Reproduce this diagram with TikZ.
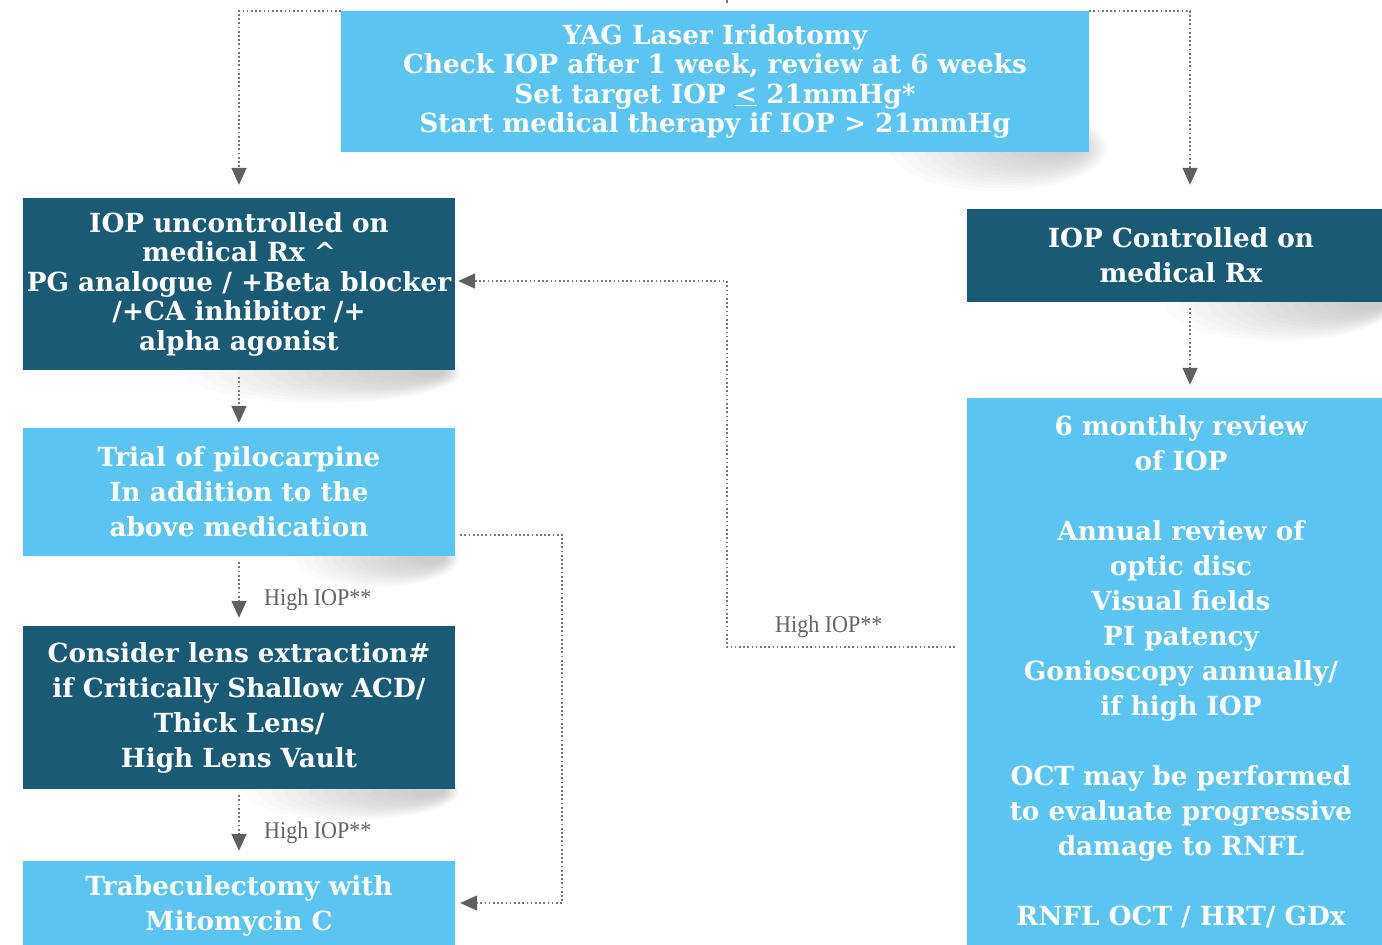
\documentclass[tikz,border=0pt]{standalone}
\usepackage{fontspec}
\setmainfont{DejaVu Serif}
\newfontfamily\lblfont{Liberation Serif}[FakeStretch=0.92]
\usetikzlibrary{arrows.meta,calc}
\pgfdeclarelayer{background}
\pgfsetlayers{background,main}
\definecolor{lightbox}{RGB}{91,196,241}
\definecolor{darkbox}{RGB}{27,90,117}
\definecolor{connline}{RGB}{120,120,120}
\definecolor{connhead}{RGB}{95,95,95}
\definecolor{lbltext}{RGB}{100,100,100}
% soft shadow under the lower right corner of a node:
% #1 node, #2 reach to the left, #3 depth, #4 reach past the right edge, #5 vertical offset
\newcommand\softshadow[5]{%
  \foreach \k in {1,...,14}{%
    \pgfmathsetmacro\tt{\k/14}%
    \pgfmathsetmacro\lft{-30-#2*\tt}%
    \pgfmathsetmacro\rgt{-12+#4*\tt}%
    \pgfmathsetmacro\cx{(\lft+\rgt)/2}%
    \pgfmathsetmacro\xr{(\rgt-\lft)/2}%
    \pgfmathsetmacro\yr{3+#3*\tt}%
    \fill[black, opacity=0.016] ($(#1.south east)+(\cx,#5)$) ellipse [x radius=\xr pt, y radius=\yr pt];
  }}
\begin{document}
\begin{tikzpicture}[x=1pt,y=-1pt,
  box/.style={rectangle, inner sep=0pt, align=center, text=white},
  tightlines/.style={font=\fontsize{26.3}{29.5}\selectfont\bfseries},
  looselines/.style={font=\fontsize{26.3}{35}\selectfont\bfseries},
  lightbox/.style={box, fill=lightbox},
  darkbox/.style={box, fill=darkbox},
  conn/.style={draw=connline, line width=1.6pt, dash pattern=on 1.7pt off 2.5pt,
    -{Triangle[length=17pt,width=15pt,color=connhead]}},
  lbl/.style={font=\lblfont\fontsize{24}{24}\selectfont, text=lbltext, anchor=base west, inner sep=0pt}]
\useasboundingbox (0,0) rectangle (1382,945);

% boxes
\node[lightbox, tightlines, minimum width=748pt, minimum height=141pt] (top) at (715,81.5)
  {YAG Laser Iridotomy\\Check IOP after 1 week, review at 6 weeks\\Set target IOP \underline{<} 21mmHg*\\Start medical therapy if IOP > 21mmHg};
\node[darkbox, tightlines, minimum width=432pt, minimum height=172pt] (A) at (239,284)
  {IOP uncontrolled on\\medical Rx \textasciicircum\\PG analogue / +Beta blocker\\/+CA inhibitor /+\\alpha agonist};
\node[lightbox, looselines, minimum width=432pt, minimum height=128pt] (B) at (239,492)
  {Trial of pilocarpine\\In addition to the\\above medication};
\node[darkbox, looselines, minimum width=432pt, minimum height=163pt] (C) at (239,707.5)
  {Consider lens extraction\#\\if Critically Shallow ACD/\\Thick Lens/\\High Lens Vault};
\node[lightbox, looselines, minimum width=432pt, minimum height=89pt] (D) at (239,905.5)
  {Trabeculectomy with\\Mitomycin C};
\node[darkbox, looselines, minimum width=428pt, minimum height=93pt] (E) at (1181,255.5)
  {IOP Controlled on\\medical Rx};
\node[lightbox, looselines, minimum width=428pt, minimum height=548pt] (F) at (1181,672)
  {6 monthly review\\of IOP\\[35pt]Annual review of\\optic disc\\Visual fields\\PI patency\\Gonioscopy annually/\\if high IOP\\[35pt]OCT may be performed\\to evaluate progressive\\damage to RNFL\\[35pt]RNFL OCT / HRT/ GDx};

% soft shadows under the lower right corners
\begin{pgfonlayer}{background}
  \softshadow{top}{170}{40}{30}{-4}
  \softshadow{A}{240}{28}{18}{2}
  \softshadow{B}{130}{26}{16}{2}
  \softshadow{C}{180}{26}{16}{2}
  \softshadow{E}{200}{34}{10}{2}
\end{pgfonlayer}

% connectors
\coordinate (feed) at (727,0);
\draw[draw=connline, line width=1.6pt] (feed) -- ++(0,2.5);
\draw[conn] (top.north west) -| ([yshift=13pt]A.north);
\draw[conn] (top.north east) -| ([xshift=9pt,yshift=24pt]E.north);
\draw[conn] ([yshift=-7pt]A.south) -- ([yshift=5pt]B.north);
\draw[conn] ([yshift=-6pt]B.south) -- ([yshift=8pt]C.north);
\draw[conn] ([yshift=-6pt]C.south) -- ([yshift=10pt]D.north);
\draw[conn] ([xshift=5pt,yshift=-43pt]B.east) -- ++(102,0) |- ([xshift=5pt,yshift=2.5pt]D.east);
\draw[conn] ([xshift=9pt,yshift=-6pt]E.south) -- ([xshift=9pt,yshift=13pt]F.north);
\draw[conn] ([xshift=-12pt,yshift=25pt]F.west) -- ++(-228,0) |- ([xshift=3pt,yshift=3pt]A.east);

% branch labels
\node[lbl] (l1) at (264,605) {High IOP**};
\node[lbl] (l2) at (264,838) {High IOP**};
\node[lbl] (l3) at (775,632) {High IOP**};
\end{tikzpicture}
\end{document}
